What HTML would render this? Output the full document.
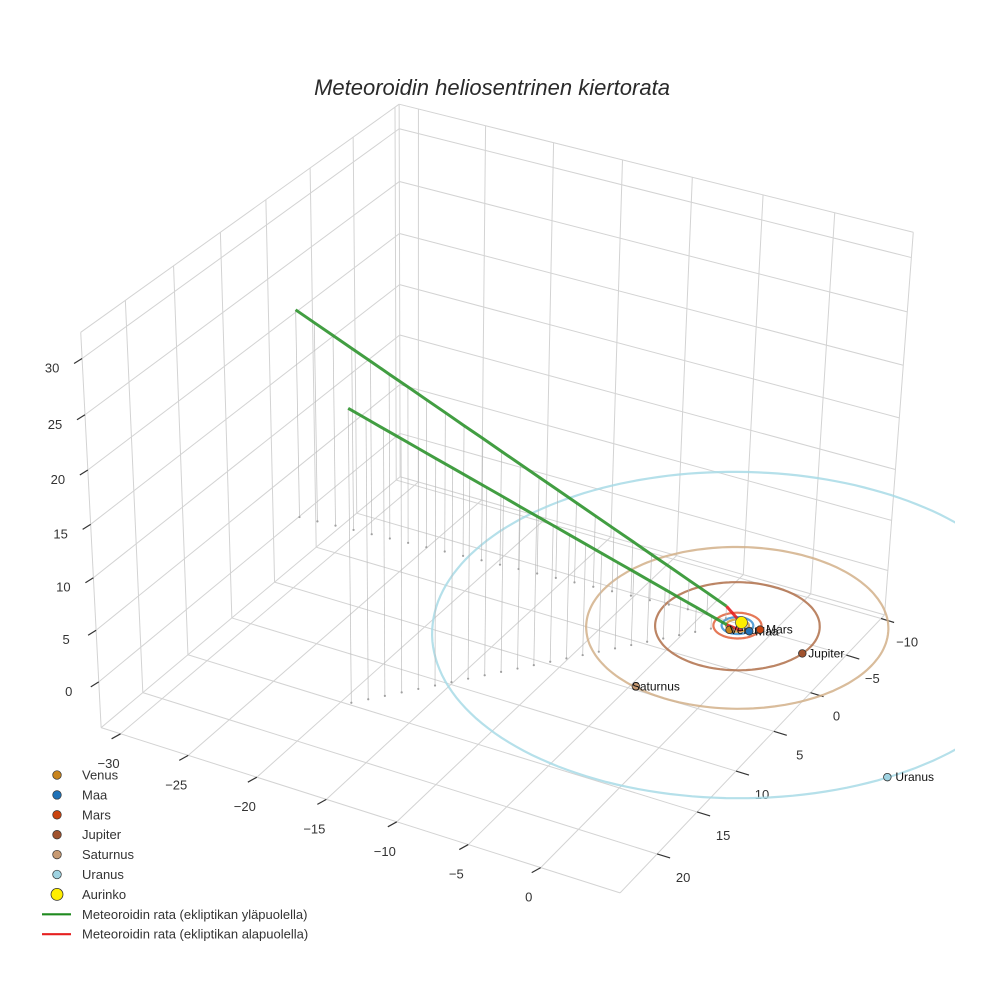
<!DOCTYPE html>
<html><head><meta charset="utf-8"><style>
html,body{margin:0;padding:0;background:#fff;}
svg{display:block;font-family:"Liberation Sans",sans-serif;}
</style></head><body>
<svg id="chart" width="984" height="984" viewBox="0 0 984 984">
<defs><clipPath id="plotclip"><rect x="0" y="0" width="955" height="984"/></clipPath></defs>
<text x="492" y="95" text-anchor="middle" font-size="22" font-style="italic" fill="#2a2a2a">Meteoroidin heliosentrinen kiertorata</text>
<g id="grid"></g>
<g id="axes"></g>
<g id="plot" clip-path="url(#plotclip)"></g>
<g id="legend"></g>
</svg>
<script>
const xTicks=[-30,-25,-20,-15,-10,-5,0];
const yTicks=[-10,-5,0,5,10,15,20];
const zTicks=[0,5,10,15,20,25,30];
const planetNames=["Venus","Maa","Mars","Jupiter","Saturnus","Uranus"];
const orbitRadii=[0.72,1.0,1.52,5.2,9.54,19.2];
const planetX=[-0.2,0.97,1.48,5.1,-2.2,15.9];
const planetY=[0.69,0.24,-0.26,0.94,9.2,10.7];
const planetColors=["#c8841e","#1f72b8","#c9440f","#a0522d","#c89a72","#9fd3e2"];
const orbitColors=["#d29a3a","#3b8fd0","#e0603a","#b0704a","#d2b08a","#a8dbe6"];
const arm1X=[-31.4,-30.08,-28.76,-27.44,-26.12,-24.8,-23.48,-22.16,-20.84,-19.52,-18.2,-16.88,-15.56,-14.24,-12.92,-11.6,-10.28,-8.96,-7.64,-6.32,-5.0,-3.68,-2.36,-1.05];
const arm1Y=[2.0,1.9,1.79,1.69,1.58,1.48,1.37,1.27,1.16,1.06,0.95,0.85,0.74,0.64,0.53,0.43,0.32,0.22,0.11,0.01,-0.1,-0.2,-0.31,-0.41];
const arm1Z=[20.3,19.47,18.64,17.81,16.98,16.15,15.32,14.49,13.66,12.83,12.0,11.17,10.34,9.51,8.68,7.85,7.02,6.19,5.36,4.53,3.7,2.87,2.04,1.2];
const arm2X=[-16.6,-15.9,-15.21,-14.51,-13.82,-13.12,-12.43,-11.73,-11.03,-10.34,-9.64,-8.95,-8.25,-7.56,-6.86,-6.17,-5.47,-4.77,-4.08,-3.38,-2.69,-1.99,-1.3,-0.6];
const arm2Y=[19.1,18.28,17.47,16.65,15.83,15.01,14.2,13.38,12.56,11.74,10.93,10.11,9.29,8.47,7.66,6.84,6.02,5.2,4.39,3.57,2.75,1.93,1.12,0.3];
const arm2Z=[27.4,26.21,25.02,23.83,22.64,21.45,20.27,19.08,17.89,16.7,15.51,14.32,13.13,11.94,10.75,9.56,8.37,7.18,5.99,4.8,3.61,2.43,1.24,0.05];
const redX=[-1.05,-0.5,0.2,0.3,-0.6];
const redY=[-0.41,-0.6,-0.4,0.2,0.3];
const redZ=[1.2,0.3,-0.2,-0.2,0.05];
const legendLabels=["Venus","Maa","Mars","Jupiter","Saturnus","Uranus","Aurinko","Meteoroidin rata (ekliptikan yläpuolella)","Meteoroidin rata (ekliptikan alapuolella)"];

const X0=-31.45,X1=5.4,Y0=-10.5,Y1=24.5,Z0=-4.5,Z1=32.3;
const calib=[[0,0,0,400,478],[1,0,0,884,616],[0,1,0,100,725],[1,1,0,622,893],[0,0,1,401,103],[1,0,1,912,231],[0,1,1,80,335]];
function solve(A,b){const n=b.length;A=A.map((r,i)=>r.concat([b[i]]));
  for(let c=0;c<n;c++){let p=c;for(let r=c+1;r<n;r++)if(Math.abs(A[r][c])>Math.abs(A[p][c]))p=r;[A[c],A[p]]=[A[p],A[c]];
    for(let r=0;r<n;r++){if(r===c)continue;const f=A[r][c]/A[c][c];for(let k=c;k<=n;k++)A[r][k]-=f*A[c][k];}}
  return A.map((r,i)=>r[n]/r[i]);}
const M=(function(){const rows=[],rhs=[];
  calib.forEach(([X,Y,Z,u,v])=>{rows.push([X,Y,Z,1,0,0,0,0,-u*X,-u*Y,-u*Z]);rhs.push(u);
    rows.push([0,0,0,0,X,Y,Z,1,-v*X,-v*Y,-v*Z]);rhs.push(v);});
  const N=11,AtA=[],Atb=[];for(let i=0;i<N;i++){AtA.push(new Array(N).fill(0));Atb.push(0);}
  rows.forEach((r,k)=>{for(let i=0;i<N;i++){Atb[i]+=r[i]*rhs[k];for(let j=0;j<N;j++)AtA[i][j]+=r[i]*r[j];}});
  return solve(AtA,Atb);})();
function P(x,y,z){
  const u=(x-X0)/(X1-X0),v=(y-Y0)/(Y1-Y0),w=(z-Z0)/(Z1-Z0);
  const d=M[8]*u+M[9]*v+M[10]*w+1;
  return [(M[0]*u+M[1]*v+M[2]*w+M[3])/d,(M[4]*u+M[5]*v+M[6]*w+M[7])/d];
}
const NS="http://www.w3.org/2000/svg";
function mk(tag,attrs,parent){const e=document.createElementNS(NS,tag);for(const k in attrs)e.setAttribute(k,attrs[k]);parent.appendChild(e);return e;}
const grid=document.getElementById("grid"),axes=document.getElementById("axes"),plot=document.getElementById("plot"),legend=document.getElementById("legend");
function gline(a,b){const p=P(a[0],a[1],a[2]),q=P(b[0],b[1],b[2]);
const e=mk("line",{x1:p[0],y1:p[1],x2:q[0],y2:q[1],stroke:"#d3d3d3","stroke-width":1},grid);

}
xTicks.forEach(x=>gline([x,Y0,Z0],[x,Y1,Z0]));
yTicks.forEach(y=>gline([X0,y,Z0],[X1,y,Z0]));
yTicks.forEach(y=>gline([X0,y,Z0],[X0,y,Z1]));
zTicks.forEach(z=>gline([X0,Y0,z],[X0,Y1,z]));
xTicks.forEach(x=>gline([x,Y0,Z0],[x,Y0,Z1]));
zTicks.forEach(z=>gline([X0,Y0,z],[X1,Y0,z]));
[[[X0,Y0,Z0],[X0,Y1,Z0]],[[X0,Y1,Z0],[X1,Y1,Z0]],[[X1,Y1,Z0],[X1,Y0,Z0]],[[X1,Y0,Z0],[X0,Y0,Z0]],[[X0,Y0,Z0],[X0,Y0,Z1]],[[X0,Y1,Z0],[X0,Y1,Z1]],[[X1,Y0,Z0],[X1,Y0,Z1]],[[X0,Y1,Z1],[X0,Y0,Z1]],[[X0,Y0,Z1],[X1,Y0,Z1]]].forEach(s=>gline(s[0],s[1]));

function tick(p,d,label,off,name){
  const l=mk("line",{x1:p[0],y1:p[1],x2:p[0]+d[0],y2:p[1]+d[1],stroke:"#333","stroke-width":1.2},axes);
  
  
  const t=mk("text",{x:p[0]+off[0],y:p[1]+off[1],"text-anchor":"middle","font-size":13,fill:"#333"},axes);
  t.textContent=String(label).replace("-","\u2212");
  
  
}
xTicks.forEach(x=>tick(P(x,Y1,Z0),[-9,5],x,[-12,34],"x-axis"));
yTicks.forEach(y=>tick(P(X1,y,Z0),[13,4],y,[26,28],"y-axis"));
zTicks.forEach(z=>tick(P(X0,Y1,z),[-8,5],z,[-30,14],"z-axis"));

for(let i=orbitRadii.length-1;i>=0;i--){
  let s=[];for(let k=0;k<=180;k++){const a=k/180*2*Math.PI;const p=P(orbitRadii[i]*Math.cos(a),orbitRadii[i]*Math.sin(a),0);s.push(p[0].toFixed(1)+","+p[1].toFixed(1));}
  const e=mk("polyline",{points:s.join(" "),fill:"none",stroke:orbitColors[i],"stroke-width":2.2,opacity:0.85},plot);
  
  
}
function stems(xs,ys,zs,name){
  for(let i=0;i<xs.length;i++){
    const a=P(xs[i],ys[i],zs[i]),b=P(xs[i],ys[i],0);
    const l=mk("line",{x1:a[0],y1:a[1],x2:b[0],y2:b[1],stroke:"#b8b8b8","stroke-width":0.8,opacity:0.8},plot);
    
    
    const d=mk("circle",{cx:b[0],cy:b[1],r:1.1,fill:"#a0a0a0"},plot);
    
    
  }
}
stems(arm1X,arm1Y,arm1Z,"arm1");
stems(arm2X,arm2Y,arm2Z,"arm2");
function path(xs,ys,zs,color,name){
  const s=xs.map((x,i)=>{const p=P(x,ys[i],zs[i]);return p[0].toFixed(1)+","+p[1].toFixed(1);}).join(" ");
  const e=mk("polyline",{points:s,fill:"none",stroke:color,"stroke-width":3,"stroke-linejoin":"round",opacity:0.9},plot);
  
  
}
path(arm1X,arm1Y,arm1Z,"#2e942e","trajectory-above-arm1");
path(arm2X,arm2Y,arm2Z,"#2e942e","trajectory-above-arm2");
path(redX,redY,redZ,"#e62020","trajectory-below");
const labelDx=[0,6,6,6,-4,8];
planetNames.forEach((n,i)=>{
  const p=P(planetX[i],planetY[i],0);
  const c=mk("circle",{cx:p[0],cy:p[1],r:3.8,fill:planetColors[i],stroke:"#333","stroke-width":0.8},plot);
  
  
  const t=mk("text",{x:p[0]+labelDx[i],y:p[1]+4,"font-size":12,fill:"#111"},plot);
  t.textContent=n;
  
  
});
const sp=P(0,0,0);
const sun=mk("circle",{cx:sp[0]+4,cy:sp[1]-3,r:6,fill:"#ffee00",stroke:"#555","stroke-width":0.8},plot);



legendLabels.forEach((lab,i)=>{
  const y=775+i*19.9;
  const g=mk("g",{},legend);
  
  
  if(i<6){const c=mk("circle",{cx:57,cy:y,r:4.3,fill:planetColors[i],stroke:"#333","stroke-width":0.7},g);
    
    }
  else if(i===6){const c=mk("circle",{cx:57,cy:y,r:6,fill:"#ffee00",stroke:"#333","stroke-width":0.8},g);
    
    }
  else {const l=mk("line",{x1:42,y1:y,x2:71,y2:y,stroke:i===7?"#1f8a1f":"#e62020","stroke-width":2.2},g);
    
    }
  const t=mk("text",{x:82,y:y+4.5,"font-size":13,fill:"#333"},g);
  t.textContent=lab;
  
  
});
</script>
</body></html>
